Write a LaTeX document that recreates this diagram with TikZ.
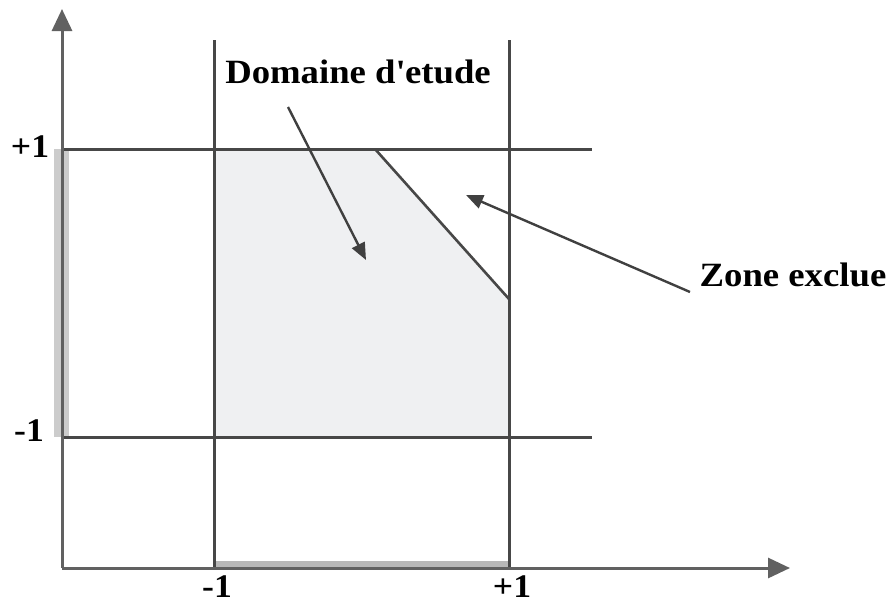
\documentclass[tikz,border=0pt]{standalone}
\usepackage{fontspec}
\setmainfont{Liberation Serif}[FakeStretch=1.08]
\usetikzlibrary{arrows.meta}
\begin{document}
\begin{tikzpicture}[x=1pt,y=-1pt,
  gridline/.style={draw=black!72,line width=3pt},
  axisline/.style={draw=black!62,line width=3pt,-{Triangle[length=22pt,width=20pt]}},
  pointer/.style={draw=black!75,line width=2.4pt,-{Triangle[length=17pt,width=14pt]}},
  lbl/.style={font=\fontsize{34}{36}\selectfont\bfseries,inner sep=0pt},
  tick/.style={font=\fontsize{33}{35}\selectfont\bfseries,inner sep=0pt}]
\useasboundingbox (0,0) rectangle (891,605);
% shaded domain
\fill[fill={rgb,255:red,239;green,240;blue,242}] (214,149) -- (375,149) -- (509,299) -- (509,437) -- (214,437) -- cycle;
% grey bars
\fill[black!20] (54,149) rectangle (69,437);
\fill[black!28] (214,561) rectangle (509,568);
% grid lines
\draw[gridline] (214,40) -- (214,568);
\draw[gridline] (509,40) -- (509,568);
\draw[gridline] (62,149) -- (592,149);
\draw[gridline] (62,437) -- (592,437);
\draw[gridline,line width=2.6pt] (375,149) -- (509,299);
% axes
\coordinate (O) at (62,568);
\coordinate (ytip) at (62,9);
\coordinate (xtip) at (790,568);
\draw[axisline] (O) -- (ytip);
\draw[axisline] (O) -- (xtip);
% tick labels
\node[tick] (yp) at (30,147) {+1};
\node[tick] (ym) at (29,431) {-1};
\node[tick] (xm) at (217,587) {-1};
\node[tick] (xp) at (512,587) {+1};
% labels and pointers
\node[lbl] (dom) at (358,72) {Domaine d\textquotesingle etude};
\node[lbl] (zone) at (793,275) {Zone exclue};
\coordinate (domstart) at (288,107);
\coordinate (domtip) at (366,260);
\coordinate (zonestart) at (690,292);
\coordinate (zonetip) at (466,195);
\draw[pointer] (domstart) -- (domtip);
\draw[pointer] (zonestart) -- (zonetip);
\end{tikzpicture}
\end{document}
